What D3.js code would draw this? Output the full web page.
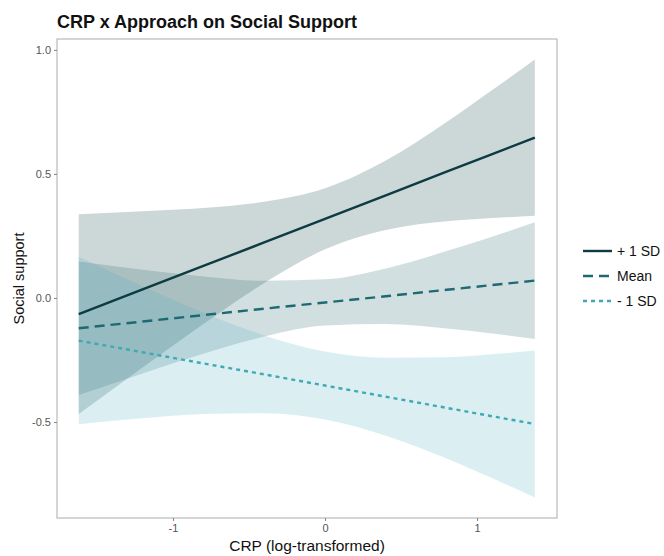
<!DOCTYPE html>
<html>
<head>
<meta charset="utf-8">
<script src="https://cdn.jsdelivr.net/npm/d3@7"></script>
<style>
  html, body { margin: 0; padding: 0; background: #fff; }
  svg { display: block; font-family: "Liberation Sans", Arial, Helvetica, sans-serif; }
</style>
</head>
<body>
<svg id="chart" width="664" height="556"></svg>
<script>
// Simple slopes of social support on CRP at three levels of approach
const crp = [-1.62, -1.2, -0.8, -0.4, 0, 0.4, 0.8, 1.1, 1.38];

const groups = ["+ 1 SD", "Mean", "- 1 SD"];

const fitHigh  = [-0.065, 0.035, 0.129, 0.224, 0.319, 0.414, 0.509, 0.580, 0.646];
const upperHigh = [0.338, 0.350, 0.363, 0.388, 0.442, 0.554, 0.709, 0.838, 0.961];
const lowerHigh = [-0.468, -0.280, -0.105, 0.060, 0.196, 0.274, 0.309, 0.322, 0.331];

const fitMean  = [-0.122, -0.095, -0.069, -0.043, -0.018, 0.007, 0.033, 0.052, 0.070];
const upperMean = [0.147, 0.114, 0.087, 0.069, 0.075, 0.119, 0.189, 0.247, 0.305];
const lowerMean = [-0.391, -0.304, -0.225, -0.155, -0.111, -0.105, -0.123, -0.143, -0.165];

const fitLow   = [-0.172, -0.219, -0.264, -0.308, -0.353, -0.398, -0.443, -0.477, -0.508];
const upperLow  = [0.165, 0.047, -0.060, -0.151, -0.216, -0.241, -0.239, -0.227, -0.212];
const lowerLow  = [-0.509, -0.485, -0.468, -0.465, -0.490, -0.555, -0.647, -0.727, -0.804];

const xTicks = [-1, 0, 1];
const xTickLabels = ["-1", "0", "1"];
const yTicks = [-0.5, 0, 0.5, 1];
const yTickLabels = ["-0.5", "0.0", "0.5", "1.0"];

const lineColors = ["#0c3c42", "#1d6a72", "#3eaab6"];
const ribbonColors = ["#00363d", "#1f5f66", "#4bb0c2"];
const dashes = [null, "10,6", "4,4"];

const series = groups.map((g, i) => ({
  name: g,
  fit: [fitHigh, fitMean, fitLow][i],
  upper: [upperHigh, upperMean, upperLow][i],
  lower: [lowerHigh, lowerMean, lowerLow][i],
  color: lineColors[i],
  fill: ribbonColors[i],
  dash: dashes[i]
}));

const panel = { left: 57, right: 557, top: 39, bottom: 518 };

const x = d3.scaleLinear().domain([-1.763, 1.526]).range([panel.left, panel.right]);
const y = d3.scaleLinear().domain([-0.887, 1.044]).range([panel.bottom, panel.top]);

const svg = d3.select("#chart");

// Title
svg.append("text")
  .attr("x", 57).attr("y", 28)
  .attr("font-size", 18).attr("font-weight", "bold").attr("fill", "#111")
  .text("CRP x Approach on Social Support");

// Confidence ribbons
const area = d3.area()
  .x((d, i) => x(crp[i]))
  .y0(d => y(d[0]))
  .y1(d => y(d[1]))
  .curve(d3.curveMonotoneX);

svg.append("g").selectAll("path")
  .data(series)
  .join("path")
  .attr("d", s => area(s.lower.map((lo, i) => [lo, s.upper[i]])))
  .attr("fill", s => s.fill)
  .attr("fill-opacity", 0.2);

// Fitted lines
const line = d3.line()
  .x((d, i) => x(crp[i]))
  .y(d => y(d));

svg.append("g").selectAll("path")
  .data(series)
  .join("path")
  .attr("d", s => line(s.fit))
  .attr("fill", "none")
  .attr("stroke", s => s.color)
  .attr("stroke-width", 2.4)
  .attr("stroke-dasharray", s => s.dash);

// Panel border
svg.append("rect")
  .attr("x", panel.left).attr("y", panel.top)
  .attr("width", panel.right - panel.left)
  .attr("height", panel.bottom - panel.top)
  .attr("fill", "none")
  .attr("stroke", "#b3b3b3")
  .attr("stroke-width", 1.1);

// Axes
const xAxis = d3.axisBottom(x)
  .tickValues(xTicks)
  .tickFormat((d, i) => xTickLabels[i])
  .tickSize(3).tickPadding(3);
const yAxis = d3.axisLeft(y)
  .tickValues(yTicks)
  .tickFormat((d, i) => yTickLabels[i])
  .tickSize(3).tickPadding(3);

const gx = svg.append("g").attr("transform", `translate(0,${panel.bottom})`).call(xAxis);
const gy = svg.append("g").attr("transform", `translate(${panel.left},0)`).call(yAxis);
[gx, gy].forEach(g => {
  g.select(".domain").remove();
  g.selectAll(".tick line").attr("stroke", "#8a8a8a").attr("stroke-width", 1.1);
  g.selectAll(".tick text")
    .attr("fill", "#555")
    .attr("font-size", 11)
    .attr("font-family", "Liberation Sans, Arial, sans-serif");
});

// Axis titles
svg.append("text")
  .attr("x", (panel.left + panel.right) / 2).attr("y", 551)
  .attr("text-anchor", "middle")
  .attr("font-size", 15.5).attr("fill", "#111")
  .text("CRP (log-transformed)");

svg.append("text")
  .attr("transform", `translate(24,${(panel.top + panel.bottom) / 2}) rotate(-90)`)
  .attr("text-anchor", "middle")
  .attr("font-size", 14.5).attr("fill", "#111")
  .text("Social support");

// Legend
const legend = svg.append("g").attr("transform", "translate(583,251)");
const item = legend.selectAll("g")
  .data(series)
  .join("g")
  .attr("transform", (d, i) => `translate(0,${i * 25})`);
item.append("line")
  .attr("x1", 0).attr("x2", 29).attr("y1", 0).attr("y2", 0)
  .attr("stroke", d => d.color)
  .attr("stroke-width", 2.4)
  .attr("stroke-dasharray", d => d.dash);
item.append("text")
  .attr("x", 34).attr("y", 0).attr("dy", "0.35em")
  .attr("font-size", 14).attr("fill", "#111")
  .text(d => d.name);
</script>
</body>
</html>
